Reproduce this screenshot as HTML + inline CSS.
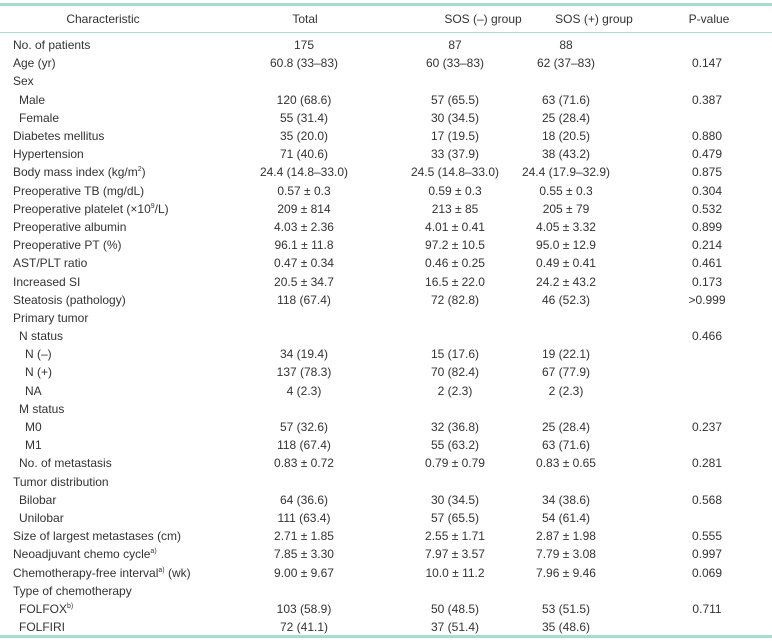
<!DOCTYPE html>
<html><head><meta charset="utf-8"><style>
body{margin:0;width:772px;height:641px;background:#fff;position:relative;font-family:"Liberation Sans",sans-serif;font-size:12px;color:#333;overflow:hidden}
.t{position:absolute;left:0;right:0;height:3px;background:#a8dccb}
.h{position:absolute;left:0;right:0;height:1px;background:#a8dccb}
.r{position:absolute;left:0;width:772px;height:18px;line-height:18px;white-space:nowrap}
.r span{position:absolute;top:0}
.c{transform:translateX(-50%)}
sup{font-size:7px;line-height:0}
</style></head><body>
<div class="t" style="top:3px"></div>
<div class="h" style="top:32px"></div>
<div class="t" style="top:635px"></div>
<div class="r" style="top:10px"><span class="c" style="left:103px">Characteristic</span><span class="c" style="left:305px">Total</span><span class="c" style="left:483px">SOS (–) group</span><span class="c" style="left:594px">SOS (+) group</span><span class="c" style="left:709px">P-value</span></div>
<div id="rows"></div>
<script>
var d=[
["No. of patients",0,"175","87","88",""],
["Age (yr)",0,"60.8 (33–83)","60 (33–83)","62 (37–83)","0.147"],
["Sex",0,"","","",""],
["Male",1,"120 (68.6)","57 (65.5)","63 (71.6)","0.387"],
["Female",1,"55 (31.4)","30 (34.5)","25 (28.4)",""],
["Diabetes mellitus",0,"35 (20.0)","17 (19.5)","18 (20.5)","0.880"],
["Hypertension",0,"71 (40.6)","33 (37.9)","38 (43.2)","0.479"],
["Body mass index (kg/m<sup>2</sup>)",0,"24.4 (14.8–33.0)","24.5 (14.8–33.0)","24.4 (17.9–32.9)","0.875"],
["Preoperative TB (mg/dL)",0,"0.57 ± 0.3","0.59 ± 0.3","0.55 ± 0.3","0.304"],
["Preoperative platelet (×10<sup>9</sup>/L)",0,"209 ± 814","213 ± 85","205 ± 79","0.532"],
["Preoperative albumin",0,"4.03 ± 2.36","4.01 ± 0.41","4.05 ± 3.32","0.899"],
["Preoperative PT (%)",0,"96.1 ± 11.8","97.2 ± 10.5","95.0 ± 12.9","0.214"],
["AST/PLT ratio",0,"0.47 ± 0.34","0.46 ± 0.25","0.49 ± 0.41","0.461"],
["Increased SI",0,"20.5 ± 34.7","16.5 ± 22.0","24.2 ± 43.2","0.173"],
["Steatosis (pathology)",0,"118 (67.4)","72 (82.8)","46 (52.3)","&gt;0.999"],
["Primary tumor",0,"","","",""],
["N status",1,"","","","0.466"],
["N (–)",2,"34 (19.4)","15 (17.6)","19 (22.1)",""],
["N (+)",2,"137 (78.3)","70 (82.4)","67 (77.9)",""],
["NA",2,"4 (2.3)","2 (2.3)","2 (2.3)",""],
["M status",1,"","","",""],
["M0",2,"57 (32.6)","32 (36.8)","25 (28.4)","0.237"],
["M1",2,"118 (67.4)","55 (63.2)","63 (71.6)",""],
["No. of metastasis",1,"0.83 ± 0.72","0.79 ± 0.79","0.83 ± 0.65","0.281"],
["Tumor distribution",0,"","","",""],
["Bilobar",1,"64 (36.6)","30 (34.5)","34 (38.6)","0.568"],
["Unilobar",1,"111 (63.4)","57 (65.5)","54 (61.4)",""],
["Size of largest metastases (cm)",0,"2.71 ± 1.85","2.55 ± 1.71","2.87 ± 1.98","0.555"],
["Neoadjuvant chemo cycle<sup>a)</sup>",0,"7.85 ± 3.30","7.97 ± 3.57","7.79 ± 3.08","0.997"],
["Chemotherapy-free interval<sup>a)</sup> (wk)",0,"9.00 ± 9.67","10.0 ± 11.2","7.96 ± 9.46","0.069"],
["Type of chemotherapy",0,"","","",""],
["FOLFOX<sup>b)</sup>",1,"103 (58.9)","50 (48.5)","53 (51.5)","0.711"],
["FOLFIRI",1,"72 (41.1)","37 (51.4)","35 (48.6)",""]];
var h="";
d.forEach(function(r,i){var y=36+i*18.19;
h+='<div class="r" style="top:'+y.toFixed(1)+'px"><span style="left:'+(13+[0,6,12][r[1]])+'px">'+r[0]+'</span><span class="c" style="left:304px">'+r[2]+'</span><span class="c" style="left:455px">'+r[3]+'</span><span class="c" style="left:566px">'+r[4]+'</span><span class="c" style="left:707px">'+r[5]+'</span></div>';});
document.getElementById("rows").innerHTML=h;
</script>
</body></html>
